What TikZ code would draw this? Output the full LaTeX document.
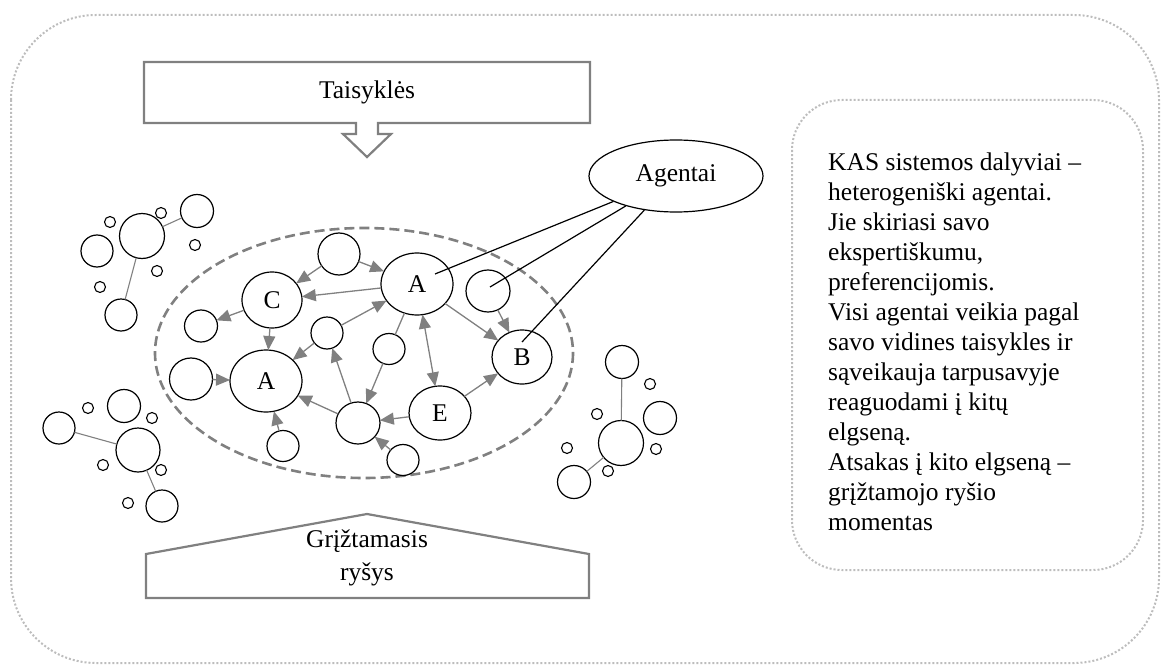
\documentclass[tikz,border=0pt]{standalone}
\usepackage{fontspec}
\setmainfont{Liberation Serif}
\usetikzlibrary{shapes.geometric,arrows.meta}
\definecolor{linegray}{HTML}{808080}
\definecolor{dotgray}{HTML}{BDBDBD}
\begin{document}
\begin{tikzpicture}[x=1pt,y=-1pt,
  font=\fontsize{25.5}{30}\selectfont,
  blob/.style={ellipse,draw=black,line width=1.2pt,fill=white,inner sep=0pt,outer sep=0pt},
  dot/.style={circle,draw=black,line width=1.1pt,fill=white,inner sep=0pt,outer sep=0pt,minimum size=11pt},
  flow/.style={draw=linegray,line width=1.3pt,-{Triangle[length=14pt,width=12pt]}},
  flowboth/.style={draw=linegray,line width=1.3pt,{Triangle[length=14pt,width=12pt]}-{Triangle[length=14pt,width=12pt]}},
  link/.style={draw=linegray,line width=1.3pt},
  tie/.style={draw=linegray,line width=1.1pt},
  pointer/.style={draw=black,line width=1.2pt},
  frame/.style={draw=dotgray,line width=2pt,dash pattern=on 2pt off 2pt},
  banner/.style={draw=linegray,line width=2.2pt,fill=white,line join=miter},
  group/.style={draw=linegray,line width=2.6pt,dash pattern=on 10pt off 5pt}
]
\useasboundingbox (0,0) rectangle (1161,666);

% outer frame and side panel
\draw[frame,rounded corners=85pt] (11,15) rectangle (1159,663);
\draw[frame,rounded corners=50pt] (792,100) rectangle (1143,570);

% rules banner with down arrow
\draw[banner] (144,62) -- (590,62) -- (590,123) -- (378,123) -- (378,134) -- (391,134)
  -- (367,157) -- (343,134) -- (356,134) -- (356,123) -- (144,123) -- cycle;
\node[anchor=base,inner sep=0pt] (rules) at (367,99) {Taisyklės};

% feedback banner
\draw[banner] (146,598) -- (146,554) -- (367,514) -- (589,554) -- (589,598) -- cycle;
\node[anchor=base,inner sep=0pt] (feedback) at (367,547)
  {\vtop{\baselineskip=33pt\lineskiplimit=-100pt\halign{\hfil#\hfil\cr Grįžtamasis\cr ryšys\cr}}};

% system boundary
\draw[group] (364,353) ellipse [x radius=209, y radius=125];

% agents inside the system
\node[blob,minimum width=42pt,minimum height=42pt] (t1) at (339,254) {};
\node[blob,minimum width=72pt,minimum height=62pt] (A1) at (417,284) {A};
\node[blob,minimum width=44pt,minimum height=42pt] (R1) at (488,291) {};
\node[blob,minimum width=60pt,minimum height=56pt] (C)  at (272,300) {C};
\node[blob,minimum width=33pt,minimum height=32pt] (L1) at (201,326) {};
\node[blob,minimum width=32pt,minimum height=32pt] (M1) at (327,333) {};
\node[blob,minimum width=32pt,minimum height=31pt] (M2) at (389,349) {};
\node[blob,minimum width=60pt,minimum height=54pt] (B)  at (522,357) {B};
\node[blob,minimum width=43pt,minimum height=42pt] (L2) at (191,379) {};
\node[blob,minimum width=72pt,minimum height=62pt] (A2) at (266,381) {A};
\node[blob,minimum width=62pt,minimum height=54pt] (E)  at (440,413) {E};
\node[blob,minimum width=44pt,minimum height=42pt] (D1) at (358,423) {};
\node[blob,minimum width=32pt,minimum height=31pt] (S1) at (283,446) {};
\node[blob,minimum width=32pt,minimum height=31pt] (S2) at (403,460) {};

% interactions
\draw[flow] (t1) -- (A1);
\draw[flow] (t1) -- (C);
\draw[flow] (A1) -- (C);
\draw[flow] (C) -- (L1);
\draw[flow] (C) -- (A2);
\draw[flow] (L2) -- (A2);
\draw[flow] (M1) -- (A1);
\draw[flow] (M1) -- (A2);
\draw[link] (A1) -- (M2);
\draw[flow] (M2) -- (D1);
\draw[flowboth] (A1) -- (E);
\draw[flow] (A1) -- (B);
\draw[flow] (R1) -- (B);
\draw[flow] (E) -- (B);
\draw[flow] (E) -- (D1);
\draw[flow] (D1) -- (A2);
\draw[flow] (D1) -- (M1);
\draw[flow] (S1) -- (A2);
\draw[flow] (S2) -- (D1);

% agents label and pointers
\node[ellipse,draw=black,line width=1.2pt,fill=white,inner sep=0pt,minimum width=174pt,minimum height=72pt] (Ag) at (676,176) {Agentai};
\coordinate (pa) at (435,274);
\coordinate (pr) at (490,287);
\coordinate (pb) at (522,342);
\draw[pointer] (Ag) -- (pa);
\draw[pointer] (Ag) -- (pr);
\draw[pointer] (Ag) -- (pb);

% outside cluster, upper left
\node[blob,minimum size=45pt] (u0) at (142,236) {};
\node[blob,minimum size=33pt] (u1) at (197,211) {};
\node[blob,minimum size=32pt] (u2) at (97,251) {};
\node[blob,minimum size=32pt] (u3) at (121,315) {};
\draw[tie] (u0) -- (u1);
\draw[tie] (u0) -- (u3);
\node[dot] (ua) at (110,222) {};
\node[dot] (ub) at (161,213) {};
\node[dot] (uc) at (195,245) {};
\node[dot] (ud) at (157,271) {};
\node[dot] (ue) at (100,287) {};

% outside cluster, lower left
\node[blob,minimum size=44pt] (w0) at (138,450) {};
\node[blob,minimum size=33pt] (w1) at (124,406) {};
\node[blob,minimum size=32pt] (w2) at (59,428) {};
\node[blob,minimum size=32pt] (w3) at (162,506) {};
\draw[tie] (w0) -- (w2);
\draw[tie] (w0) -- (w3);
\node[dot] (wa) at (88,408) {};
\node[dot] (wb) at (152,418) {};
\node[dot] (wc) at (103,465) {};
\node[dot] (wd) at (161,470) {};
\node[dot] (we) at (128,503) {};

% outside cluster, right
\node[blob,minimum size=45pt] (v0) at (621,443) {};
\node[blob,minimum size=33pt] (v1) at (622,362) {};
\node[blob,minimum size=33pt] (v2) at (660,418) {};
\node[blob,minimum size=33pt] (v3) at (574,482) {};
\draw[tie] (v0) -- (v1);
\draw[tie] (v0) -- (v3);
\node[dot] (va) at (650,384) {};
\node[dot] (vb) at (597,414) {};
\node[dot] (vc) at (656,449) {};
\node[dot] (vd) at (567,448) {};
\node[dot] (ve) at (608,471) {};

% side panel text
\node[anchor=base west,inner sep=0pt] (notes) at (828,170)
  {\vtop{\baselineskip=30pt\lineskiplimit=-100pt
    \hbox{KAS sistemos dalyviai –}
    \hbox{heterogeniški agentai.}
    \hbox{Jie skiriasi savo}
    \hbox{ekspertiškumu,}
    \hbox{preferencijomis.}
    \hbox{Visi agentai veikia pagal}
    \hbox{savo vidines taisykles ir}
    \hbox{sąveikauja tarpusavyje}
    \hbox{reaguodami į kitų}
    \hbox{elgseną.}
    \hbox{Atsakas į kito elgseną –}
    \hbox{grįžtamojo ryšio}
    \hbox{momentas}}};
\end{tikzpicture}
\end{document}
